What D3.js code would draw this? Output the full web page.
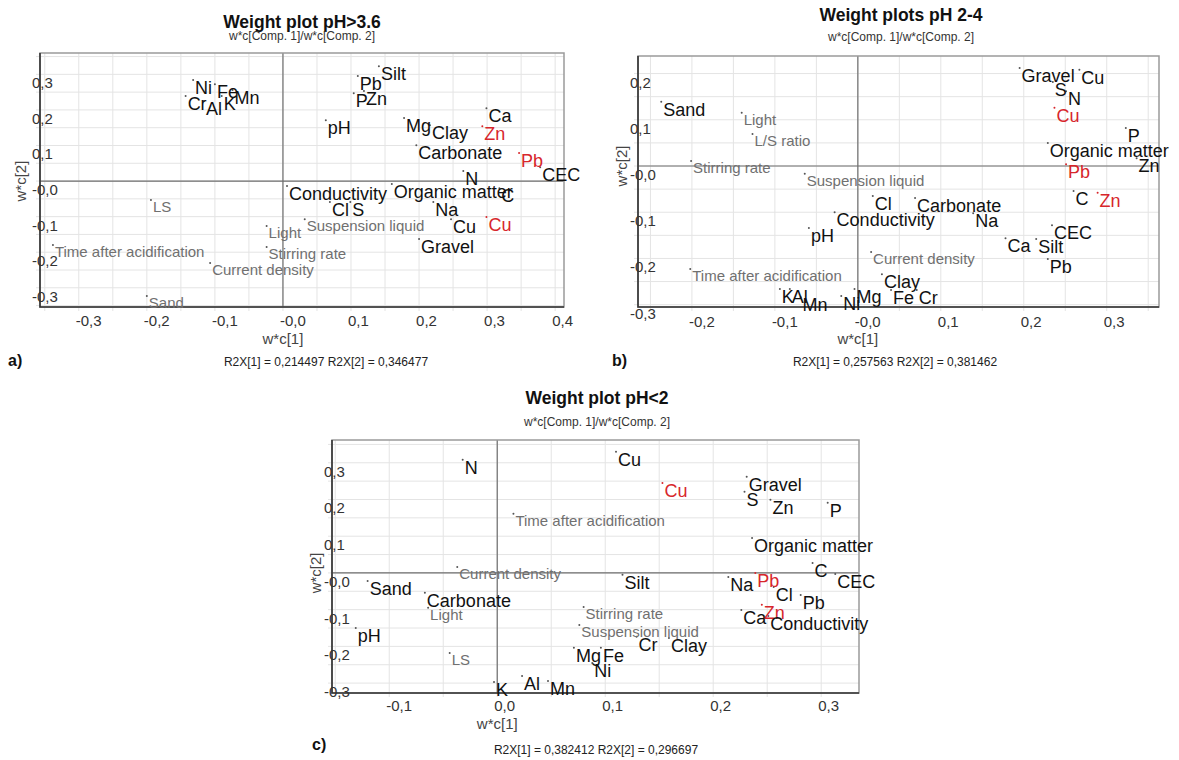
<!DOCTYPE html>
<html>
<head>
<meta charset="utf-8">
<script src="https://cdn.jsdelivr.net/npm/d3@7"></script>
<style>
	body{margin:0;background:#fff;}
	svg{display:block;font-family:"Liberation Sans",Arial,sans-serif;}
</style>
</head>
<body>
<svg id="chart" width="1179" height="760"></svg>
<script>
//Group codes: v = soil/metal variable, f = process factor, r = response (red).

//Panel a) Weight plot pH>3.6
var namesA = ["Ni","Fe","Mn","Cr","Al","K","pH","Pb","Silt","P","Zn","Mg","Clay","Ca","Zn",
	"Carbonate","Pb","CEC","N","Organic matter","C","Conductivity","Cl","S","Light",
	"Suspension liquid","Stirring rate","Current density","Time after acidification","LS",
	"Sand","Na","Cu","Cu","Gravel"];
var groupA = ["v","v","v","v","v","v","v","v","v","v","v","v","v","v","r",
	"v","r","v","v","v","v","v","v","v","f",
	"f","f","f","f","f",
	"f","v","v","r","v"];
var xA = [-0.132,-0.100,-0.074,-0.143,-0.116,-0.090,0.063,0.110,0.141,0.104,0.119,0.178,0.216,0.299,0.293,
	0.196,0.347,0.378,0.265,0.160,0.318,0.006,0.069,0.099,-0.024,
	0.032,-0.024,-0.107,-0.338,-0.194,
	-0.200,0.221,0.247,0.299,0.200];
var yA = [0.284,0.272,0.256,0.239,0.225,0.239,0.171,0.295,0.323,0.247,0.253,0.177,0.157,0.205,0.154,
	0.101,0.079,0.039,0.028,-0.008,-0.020,-0.014,-0.059,-0.059,-0.126,
	-0.107,-0.185,-0.230,-0.180,-0.053,
	-0.323,-0.059,-0.107,-0.101,-0.163];

//Panel b) Weight plots pH 2-4
var namesB = ["Sand","Light","L/S ratio","Stirring rate","Suspension liquid","Cl","Conductivity","pH",
	"Current density","Time after acidification","Clay","K","Al","Mn","Ni","Mg","Fe","Cr",
	"Carbonate","Na","Ca","Silt","CEC","Pb","C","Zn","Pb","Organic matter","P","Zn","Cu","S","N",
	"Gravel","Cu"];
var groupB = ["v","f","f","f","f","v","v","v",
	"f","f","v","v","v","v","v","v","v","v",
	"v","v","v","v","v","v","v","r","r","v","v","v","r","v","v",
	"v","v"];
var xB = [-0.237,-0.140,-0.127,-0.201,-0.064,0.018,-0.028,-0.059,
	0.016,-0.202,0.029,-0.094,-0.082,-0.069,-0.020,-0.004,0.040,0.071,
	0.069,0.139,0.178,0.215,0.234,0.229,0.260,0.289,0.251,0.229,0.323,0.336,0.237,0.235,0.251,
	0.195,0.267];
var yB = [0.139,0.115,0.069,0.011,-0.017,-0.065,-0.100,-0.134,
	-0.186,-0.223,-0.234,-0.266,-0.266,-0.284,-0.281,-0.266,-0.268,-0.268,
	-0.069,-0.102,-0.156,-0.158,-0.128,-0.201,-0.054,-0.058,0.004,0.050,0.082,0.017,0.126,0.182,0.162,
	0.212,0.208];

//Panel c) Weight plot pH<2
var namesC = ["N","Time after acidification","Current density","Sand","Carbonate","Light","pH","LS",
	"K","Al","Mn","Silt","Stirring rate","Suspension liquid","Mg","Fe","Ni","Cr","Cu","Cu",
	"Gravel","S","Zn","P","Organic matter","C","CEC","Na","Pb","Cl","Pb","Ca","Zn",
	"Conductivity","Clay"];
var groupC = ["v","f","f","v","v","f","v","f",
	"v","v","v","v","f","f","v","v","v","v","v","r",
	"v","v","v","v","v","v","v","v","r","v","v","v","r",
	"v","v"];
var xC = [-0.032,0.015,-0.037,-0.120,-0.067,-0.064,-0.131,-0.044,
	-0.003,0.023,0.047,0.116,0.080,0.076,0.071,0.096,0.088,0.129,0.110,0.153,
	0.231,0.229,0.253,0.306,0.236,0.292,0.313,0.214,0.239,0.256,0.281,0.226,0.245,
	0.251,0.159];
var yC = [0.308,0.161,0.016,-0.022,-0.054,-0.095,-0.150,-0.218,
	-0.297,-0.281,-0.294,-0.005,-0.093,-0.142,-0.204,-0.204,-0.245,-0.174,0.330,0.245,
	0.262,0.221,0.199,0.191,0.095,0.027,-0.003,-0.011,0.000,-0.038,-0.060,-0.101,-0.087,
	-0.117,-0.177];

//Tick values and their labels.
var xTicksA = [-0.3,-0.2,-0.1,0,0.1,0.2,0.3,0.4];
var xTickLabelsA = ["-0,3","-0,2","-0,1","-0,0","0,1","0,2","0,3","0,4"];
var yTicksA = [-0.3,-0.2,-0.1,0,0.1,0.2,0.3];
var yTickLabelsA = ["-0,3","-0,2","-0,1","-0,0","0,1","0,2","0,3"];
var xTicksB = [-0.2,-0.1,0,0.1,0.2,0.3];
var xTickLabelsB = ["-0,2","-0,1","-0,0","0,1","0,2","0,3"];
var yTicksB = [-0.3,-0.2,-0.1,0,0.1,0.2];
var yTickLabelsB = ["-0,3","-0,2","-0,1","-0,0","0,1","0,2"];
var xTicksC = [-0.1,0,0.1,0.2,0.3];
var xTickLabelsC = ["-0,1","0,0","0,1","0,2","0,3"];
var yTicksC = [-0.3,-0.2,-0.1,0,0.1,0.2,0.3];
var yTickLabelsC = ["-0,3","-0,2","-0,1","-0,0","0,1","0,2","0,3"];

var svg = d3.select("#chart");

var groupStyle = {
	v: {fill: "#111", size: 18, drop: 14},
	f: {fill: "#707070", size: 15, drop: 12},
	r: {fill: "#d7262b", size: 18, drop: 14}
};

function drawPanel(p){
	var x = d3.scaleLinear().domain(p.xDomain).range([p.left, p.right]);
	var y = d3.scaleLinear().domain(p.yDomain).range([p.bottom, p.top]);
	var g = svg.append("g");

	//Grid every 0.05 from the origin.
	var gx = d3.range(Math.ceil(p.xDomain[0] / 0.05), Math.floor(p.xDomain[1] / 0.05) + 1)
		.map(function(k){ return k * 0.05; });
	var gy = d3.range(Math.ceil(p.yDomain[0] / 0.05), Math.floor(p.yDomain[1] / 0.05) + 1)
		.map(function(k){ return k * 0.05; });

	g.selectAll(".gx").data(gx).enter().append("line")
		.attr("x1", function(d){ return x(d); }).attr("x2", function(d){ return x(d); })
		.attr("y1", p.top).attr("y2", p.bottom + 4)
		.attr("stroke", "#e4e4e4").attr("stroke-width", 1);
	g.selectAll(".gy").data(gy).enter().append("line")
		.attr("y1", function(d){ return y(d); }).attr("y2", function(d){ return y(d); })
		.attr("x1", p.left - 4).attr("x2", p.right)
		.attr("stroke", "#e4e4e4").attr("stroke-width", 1);

	//Origin lines.
	g.append("line").attr("x1", x(0)).attr("x2", x(0)).attr("y1", p.top).attr("y2", p.bottom)
		.attr("stroke", "#6e6e6e").attr("stroke-width", 1.2);
	g.append("line").attr("y1", y(0)).attr("y2", y(0)).attr("x1", p.left).attr("x2", p.right)
		.attr("stroke", "#6e6e6e").attr("stroke-width", 1.2);

	//Frame: light top/right, dark left/bottom axes.
	g.append("rect").attr("x", p.left).attr("y", p.top)
		.attr("width", p.right - p.left).attr("height", p.bottom - p.top)
		.attr("fill", "none").attr("stroke", "#9a9a9a").attr("stroke-width", 1.5);
	g.append("path")
		.attr("d", "M" + p.left + "," + p.top + "V" + p.bottom + "H" + p.right)
		.attr("fill", "none").attr("stroke", "#333").attr("stroke-width", 1.6);

	//Tick labels, SIMCA style: sitting right of / below their tick.
	g.selectAll(".xt").data(p.xTicks).enter().append("text")
		.attr("x", function(d){ return x(d) - 3; })
		.attr("y", p.bottom + p.xLabelDrop)
		.attr("font-size", 15).attr("fill", "#333")
		.text(function(d, i){ return p.xTickLabels[i]; });
	g.selectAll(".yt").data(p.yTicks).enter().append("text")
		.attr("x", p.left - 8)
		.attr("y", function(d){ return y(d) + 14; })
		.attr("font-size", 15).attr("fill", "#333")
		.text(function(d, i){ return p.yTickLabels[i]; });

	//Points and labels.
	var pts = p.names.map(function(n, i){
		return {name: n, x: p.xs[i], y: p.ys[i], group: p.groups[i]};
	});
	g.selectAll(".pt").data(pts).enter().append("circle")
		.attr("cx", function(d){ return x(d.x); })
		.attr("cy", function(d){ return y(d.y); })
		.attr("r", 1)
		.attr("fill", function(d){ return d.group === "r" ? "#d7262b" : "#555"; });
	g.selectAll(".lb").data(pts).enter().append("text")
		.attr("x", function(d){ return x(d.x) + 2; })
		.attr("y", function(d){ return y(d.y) + groupStyle[d.group].drop; })
		.attr("font-size", function(d){ return groupStyle[d.group].size; })
		.attr("fill", function(d){ return groupStyle[d.group].fill; })
		.text(function(d){ return d.name; });

	//Titles.
	g.append("text").attr("x", p.titleX).attr("y", p.titleY)
		.attr("text-anchor", "middle").attr("font-size", 17.5).attr("font-weight", "bold")
		.attr("fill", "#111").text(p.title);
	g.append("text").attr("x", p.titleX).attr("y", p.titleY + p.subGap)
		.attr("text-anchor", "middle").attr("font-size", 12).attr("fill", "#333")
		.text("w*c[Comp. 1]/w*c[Comp. 2]");
	g.append("text").attr("x", x(0)).attr("y", p.bottom + p.xTitleDrop)
		.attr("text-anchor", "middle").attr("font-size", 15).attr("fill", "#444")
		.text("w*c[1]");
	g.append("text")
		.attr("transform", "translate(" + p.yTitleX + "," + y(0) + ") rotate(-90)")
		.attr("text-anchor", "middle").attr("font-size", 15).attr("fill", "#444")
		.text("w*c[2]");
	g.append("text").attr("x", p.r2X).attr("y", p.r2Y)
		.attr("text-anchor", "middle").attr("font-size", 12).attr("fill", "#222")
		.text(p.r2);
	g.append("text").attr("x", p.tagX).attr("y", p.tagY)
		.attr("font-size", 16).attr("font-weight", "bold").attr("fill", "#111")
		.text(p.tag);
}

drawPanel({
	left: 40, right: 564, top: 53, bottom: 307,
	xDomain: [-0.357, 0.413], yDomain: [-0.354, 0.36],
	xTicks: xTicksA, xTickLabels: xTickLabelsA, yTicks: yTicksA, yTickLabels: yTickLabelsA,
	xLabelDrop: 19, xTitleDrop: 37, yTitleX: 26,
	names: namesA, xs: xA, ys: yA, groups: groupA,
	title: "Weight plot pH>3.6", titleX: 302, titleY: 28, subGap: 12,
	r2: "R2X[1] = 0,214497 R2X[2] = 0,346477", r2X: 326, r2Y: 366,
	tag: "a)", tagX: 8, tagY: 366
});

drawPanel({
	left: 638, right: 1159, top: 56, bottom: 307,
	xDomain: [-0.265, 0.363], yDomain: [-0.305, 0.238],
	xTicks: xTicksB, xTickLabels: xTickLabelsB, yTicks: yTicksB, yTickLabels: yTickLabelsB,
	xLabelDrop: 20, xTitleDrop: 37, yTitleX: 627,
	names: namesB, xs: xB, ys: yB, groups: groupB,
	title: "Weight plots pH 2-4", titleX: 901, titleY: 21, subGap: 20,
	r2: "R2X[1] = 0,257563 R2X[2] = 0,381462", r2X: 895, r2Y: 366,
	tag: "b)", tagX: 612, tagY: 366
});

drawPanel({
	left: 332, right: 859, top: 440, bottom: 693,
	xDomain: [-0.153, 0.335], yDomain: [-0.327, 0.362],
	xTicks: xTicksC, xTickLabels: xTickLabelsC, yTicks: yTicksC, yTickLabels: yTickLabelsC,
	xLabelDrop: 18, xTitleDrop: 36, yTitleX: 321,
	names: namesC, xs: xC, ys: yC, groups: groupC,
	title: "Weight plot pH<2", titleX: 597, titleY: 404, subGap: 22,
	r2: "R2X[1] = 0,382412 R2X[2] = 0,296697", r2X: 596, r2Y: 754,
	tag: "c)", tagX: 312, tagY: 750
});
</script>
</body>
</html>
